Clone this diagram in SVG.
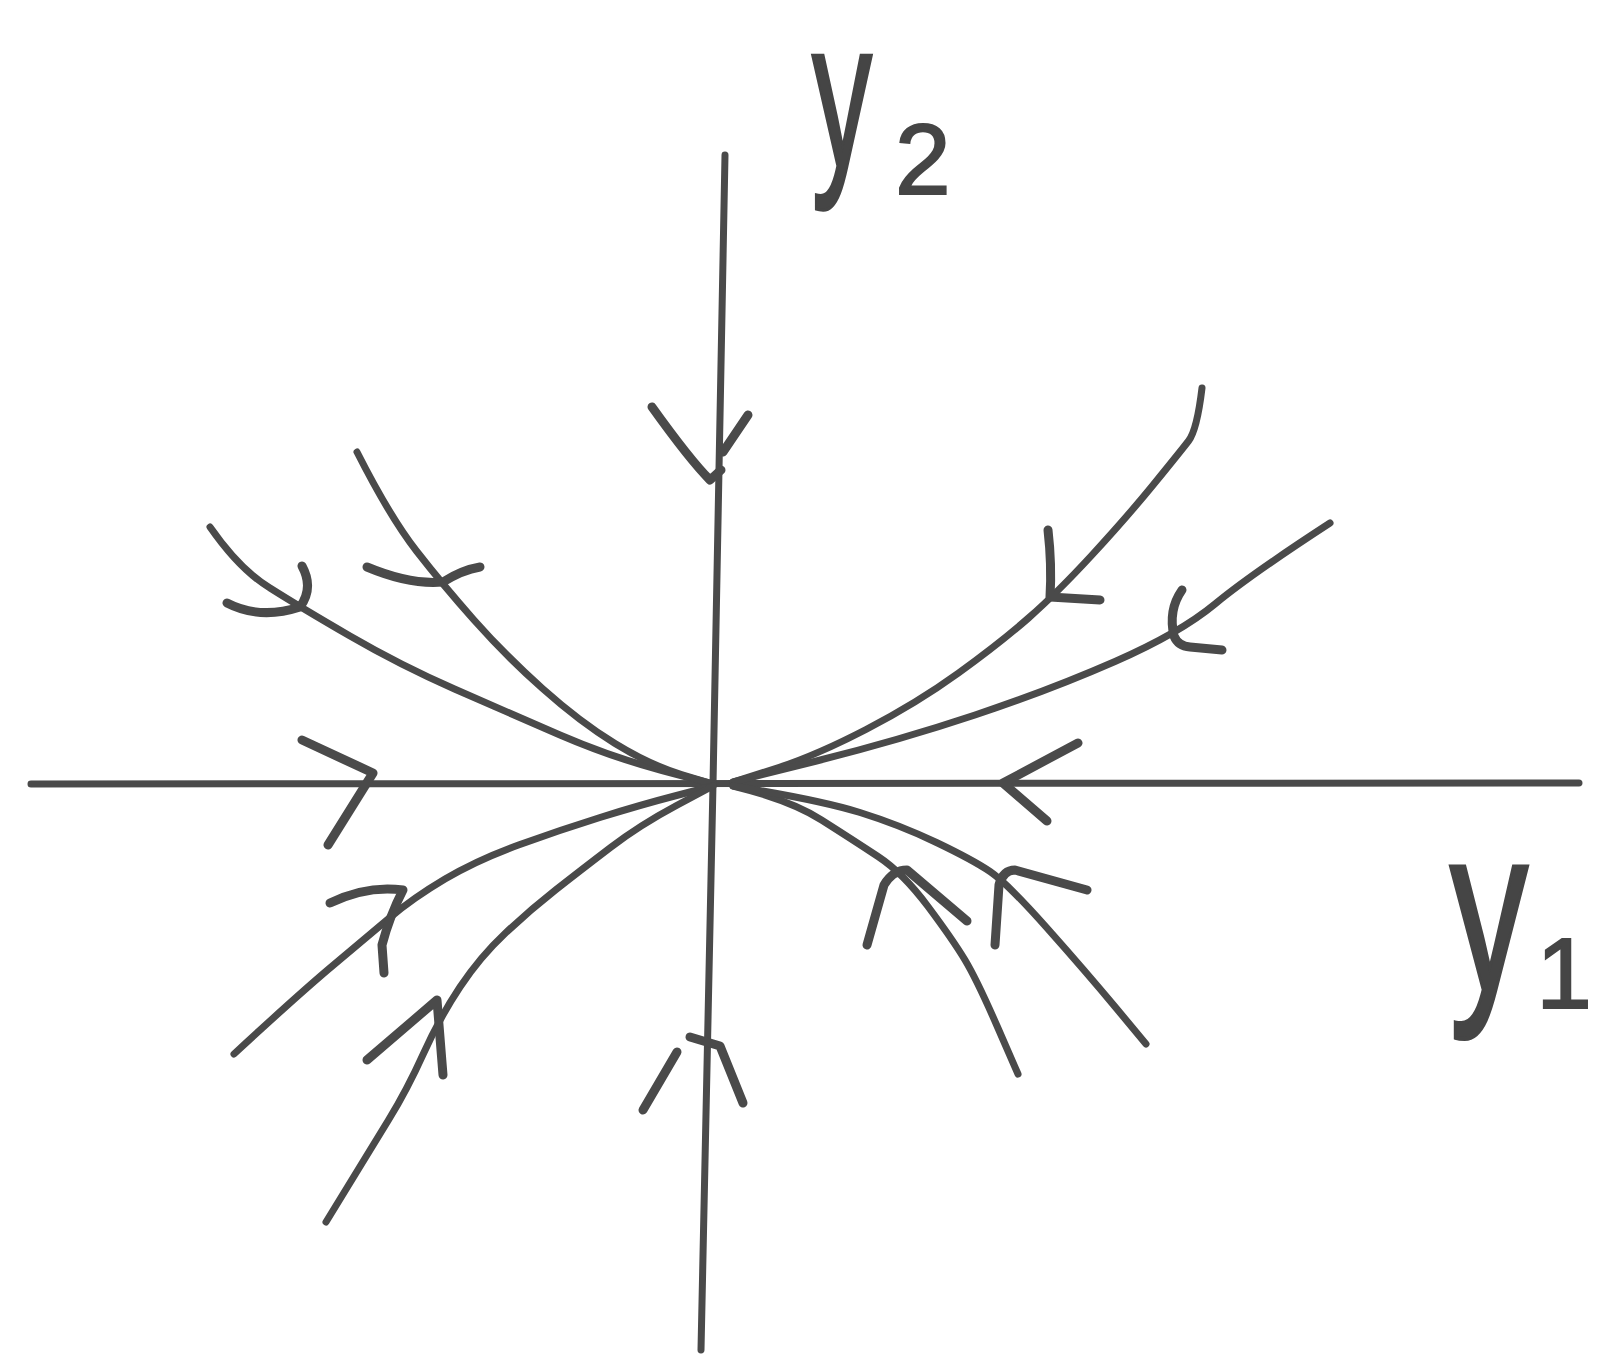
<svg xmlns="http://www.w3.org/2000/svg" width="1597" height="1364" viewBox="0 0 1597 1364">
<style>
.ln{fill:none;stroke:#4a4a4a;stroke-width:7;stroke-linecap:round;stroke-linejoin:round}
.ar{fill:none;stroke:#4a4a4a;stroke-width:9;stroke-linecap:round;stroke-linejoin:round}
.lb{font-family:"Liberation Sans",Arial,sans-serif;fill:#454545;stroke:#454545;stroke-width:2}
</style>
<rect width="1597" height="1364" fill="#ffffff"/>
<g id="axes">
<path class="ln" d="M31,784 L1579,783"/>
<path class="ln" d="M725,155 L713,784 L701,1350"/>
</g>
<g id="trajectories">
<path class="ln" d="M210,527 Q240,570 270,588 Q300,607 350,636 Q400,665 454.5,689 Q509,713 560,735 Q611,757 662,770.5 L713,784"/>
<path class="ln" d="M357,452 Q390,517 416.5,551 Q443,585 474,620 Q505,655 542.5,688.5 Q580,722 615,743.5 Q650,765 681.5,774.5 L713,784"/>
<path class="ln" d="M1202,388 Q1197,430 1188.5,441 Q1180,452 1153.5,484.5 Q1127,517 1092,555 Q1057,593 1028.5,618 Q1000,643 958.5,673 Q917,703 866,729.5 Q815,756 774,769 L733,782"/>
<path class="ln" d="M1330,523 Q1250,575 1215,604 Q1180,633 1115,661.5 Q1050,690 975,715 Q900,740 816.5,761 L733,782"/>
<path class="ln" d="M733,786 Q790,800 821.5,820 Q853,840 878,856.5 Q903,873 928,906.5 Q953,940 965,960 Q977,980 997.5,1027 L1018,1074"/>
<path class="ln" d="M733,786 Q820,800 860,812.5 Q900,825 936.5,842.5 Q973,860 990,871.5 Q1007,883 1047,928 Q1087,973 1116.5,1008.5 L1146,1044"/>
<path class="ln" d="M234,1054 Q300,993 333.5,965 Q367,937 390,917.5 Q413,898 445,879 Q477,860 518.5,845 Q560,830 600,817.5 Q640,805 676.5,795.5 L713,786"/>
<path class="ln" d="M326,1222 Q370,1150 388.5,1120 Q407,1090 423.5,1053.5 Q440,1017 460,987 Q480,957 505,933.5 Q530,910 555.5,890 Q581,870 610.5,847.5 Q640,825 676.5,805.5 L713,786"/>
</g>
<g id="arrows">
<path class="ar" d="M652,407 Q690,460 710,480 L721,470"/>
<path class="ar" d="M748,415 L723,452"/>
<path class="ar" d="M690,1037 L720,1046 L743,1103"/>
<path class="ar" d="M677,1052 L643,1110"/>
<path class="ar" d="M302,740 L373,773 L328,845"/>
<path class="ar" d="M1078,743 L1003,783 L1047,821"/>
<path class="ar" d="M227,603 Q260,620 300,607 Q314,588 302,566"/>
<path class="ar" d="M367,567 Q410,585 443,582 Q462,570 480,567"/>
<path class="ar" d="M1048,530 Q1052,565 1050,597 L1100,600"/>
<path class="ar" d="M1182,590 Q1168,610 1174,636 Q1178,646 1190,647 L1222,650"/>
<path class="ar" d="M867,945 L884,885 Q893,870 907,870 L967,921"/>
<path class="ar" d="M995,945 L999,885 Q1003,870 1015,870 L1087,890"/>
<path class="ar" d="M330,903 Q367,885 403,890 Q390,915 382,945 L384,973"/>
<path class="ar" d="M367,1060 L437,1000 L443,1075"/>
</g>
<g id="labels">
<text class="lb" transform="translate(812,166) scale(1.0,1.75)" font-size="120">y</text>
<text class="lb" x="895" y="194" font-size="100">2</text>
<text class="lb" transform="translate(1450,990) scale(1.3,1.95)" font-size="120">y</text>
<text class="lb" x="1564" y="1008" font-size="100" text-anchor="middle">1</text>
</g>
</svg>
